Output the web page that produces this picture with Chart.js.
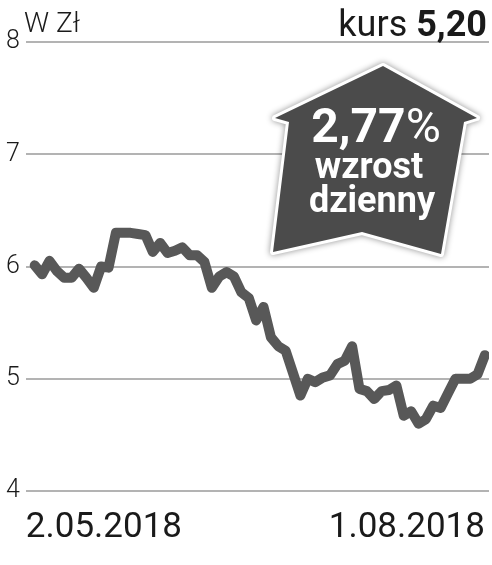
<!DOCTYPE html>
<html>
<head>
<meta charset="utf-8">
<script src="https://cdn.jsdelivr.net/npm/chart.js@4.4.1/dist/chart.umd.min.js"></script>
<style>
  body { margin: 0; background: #fff; }
  #wrap { position: relative; width: 492px; height: 565px; font-family: Roboto, sans-serif; color: #1a1a1a; }
  canvas { display: block; }
  .t { position: absolute; line-height: 1; white-space: nowrap; }
  #unit { left: 24px; top: 9px; font-size: 28px; font-weight: 300; }
  #kurs { right: 5px; top: 6px; font-size: 36px; }
  #kurs b { font-weight: 700; }
  .big { color: #fff; font-weight: 700; text-align: center; width: 200px; }
  #pct { left: 276px; top: 102px; font-size: 48px; }
  #pct span { font-weight: 400; }
  #w1 { left: 269px; top: 148px; font-size: 36px; }
  #w2 { left: 272px; top: 182px; font-size: 36px; }
</style>
</head>
<body>
<div id="wrap">
  <canvas id="chart" width="492" height="565"></canvas>
  <div class="t" id="unit">W Zł</div>
  <div class="t" id="kurs">kurs <b>5,20</b></div>
  <div class="t big" id="pct">2,77<span>%</span></div>
  <div class="t big" id="w1">wzrost</div>
  <div class="t big" id="w2">dzienny</div>
</div>
<script>
// kurs dzienny, 2.05.2018 - 1.08.2018
const tickLabels = ["2.05.2018", "1.08.2018"];
const kurs = [
  6.01, 5.93, 6.05, 5.96, 5.90, 5.90, 5.98, 5.90, 5.81, 6.00,
  5.99, 6.30, 6.30, 6.30, 6.29, 6.28, 6.13, 6.21, 6.12, 6.14,
  6.17, 6.10, 6.10, 6.04, 5.81, 5.91, 5.95, 5.91, 5.77, 5.72,
  5.52, 5.64, 5.37, 5.29, 5.25, 5.05, 4.85, 5.00, 4.97, 5.01,
  5.03, 5.13, 5.16, 5.29, 4.91, 4.89, 4.82, 4.89, 4.90, 4.94,
  4.67, 4.71, 4.60, 4.64, 4.76, 4.74, 4.87, 5.00, 5.00, 5.00,
  5.04, 5.21
];
const yTicks = [4, 5, 6, 7, 8];

const xMin = -1.2, xMax = kurs.length - 1 + 0.55;

// ramka ze strzalka (wzrost dzienny)
const arrowPts = [[383, 66], [477, 118], [464, 122], [441, 254], [362, 232], [273, 252], [289, 122], [275, 118]];

const arrowBox = {
  id: "arrowBox",
  afterDatasetsDraw(chart) {
    const ctx = chart.ctx;
    ctx.save();
    ctx.beginPath();
    arrowPts.forEach(([x, y], i) => i ? ctx.lineTo(x, y) : ctx.moveTo(x, y));
    ctx.closePath();
    ctx.shadowColor = "rgba(0,0,0,0.45)";
    ctx.shadowBlur = 6;
    ctx.lineJoin = "round";
    ctx.lineWidth = 6;
    ctx.strokeStyle = "#fff";
    ctx.stroke();
    ctx.shadowColor = "transparent";
    ctx.fillStyle = "#4b4b4b";
    ctx.fill();
    ctx.restore();
  }
};

const ctx = document.getElementById("chart").getContext("2d");
new Chart(ctx, {
  type: "line",
  data: {
    datasets: [{
      data: kurs.map((v, i) => ({ x: i, y: v })),
      borderColor: "#585858",
      borderWidth: 10,
      borderJoinStyle: "round",
      borderCapStyle: "round",
      pointRadius: 0,
      tension: 0
    }]
  },
  options: {
    responsive: false,
    animation: false,
    layout: { padding: { top: 42, left: 0, right: 3, bottom: 0 } },
    plugins: { legend: { display: false }, tooltip: { enabled: false } },
    scales: {
      x: {
        type: "linear",
        min: xMin,
        max: xMax,
        grid: { display: false, drawTicks: false },
        border: { display: false },
        afterBuildTicks: s => { s.ticks = [{ value: xMin }, { value: kurs.length - 1 }]; },
        afterFit: s => { s.paddingLeft = 0; s.paddingRight = 0; },
        ticks: {
          autoSkip: false,
          maxRotation: 0,
          align: "inner",
          padding: 16,
          color: "#1a1a1a",
          font: { family: "Roboto", size: 35 },
          callback: (v, i) => tickLabels[i]
        }
      },
      y: {
        min: 4,
        max: 8,
        afterBuildTicks: s => { s.ticks = yTicks.map(v => ({ value: v })); },
        afterFit: s => { s.paddingTop = 0; s.paddingBottom = 0; },
        grid: { color: "#b3b3b3", lineWidth: 2, drawTicks: false },
        border: { display: false },
        ticks: {
          padding: 6,
          color: "#1a1a1a",
          font: { family: "Roboto", size: 25, weight: "300" }
        }
      }
    }
  },
  plugins: [arrowBox]
});
</script>
</body>
</html>
